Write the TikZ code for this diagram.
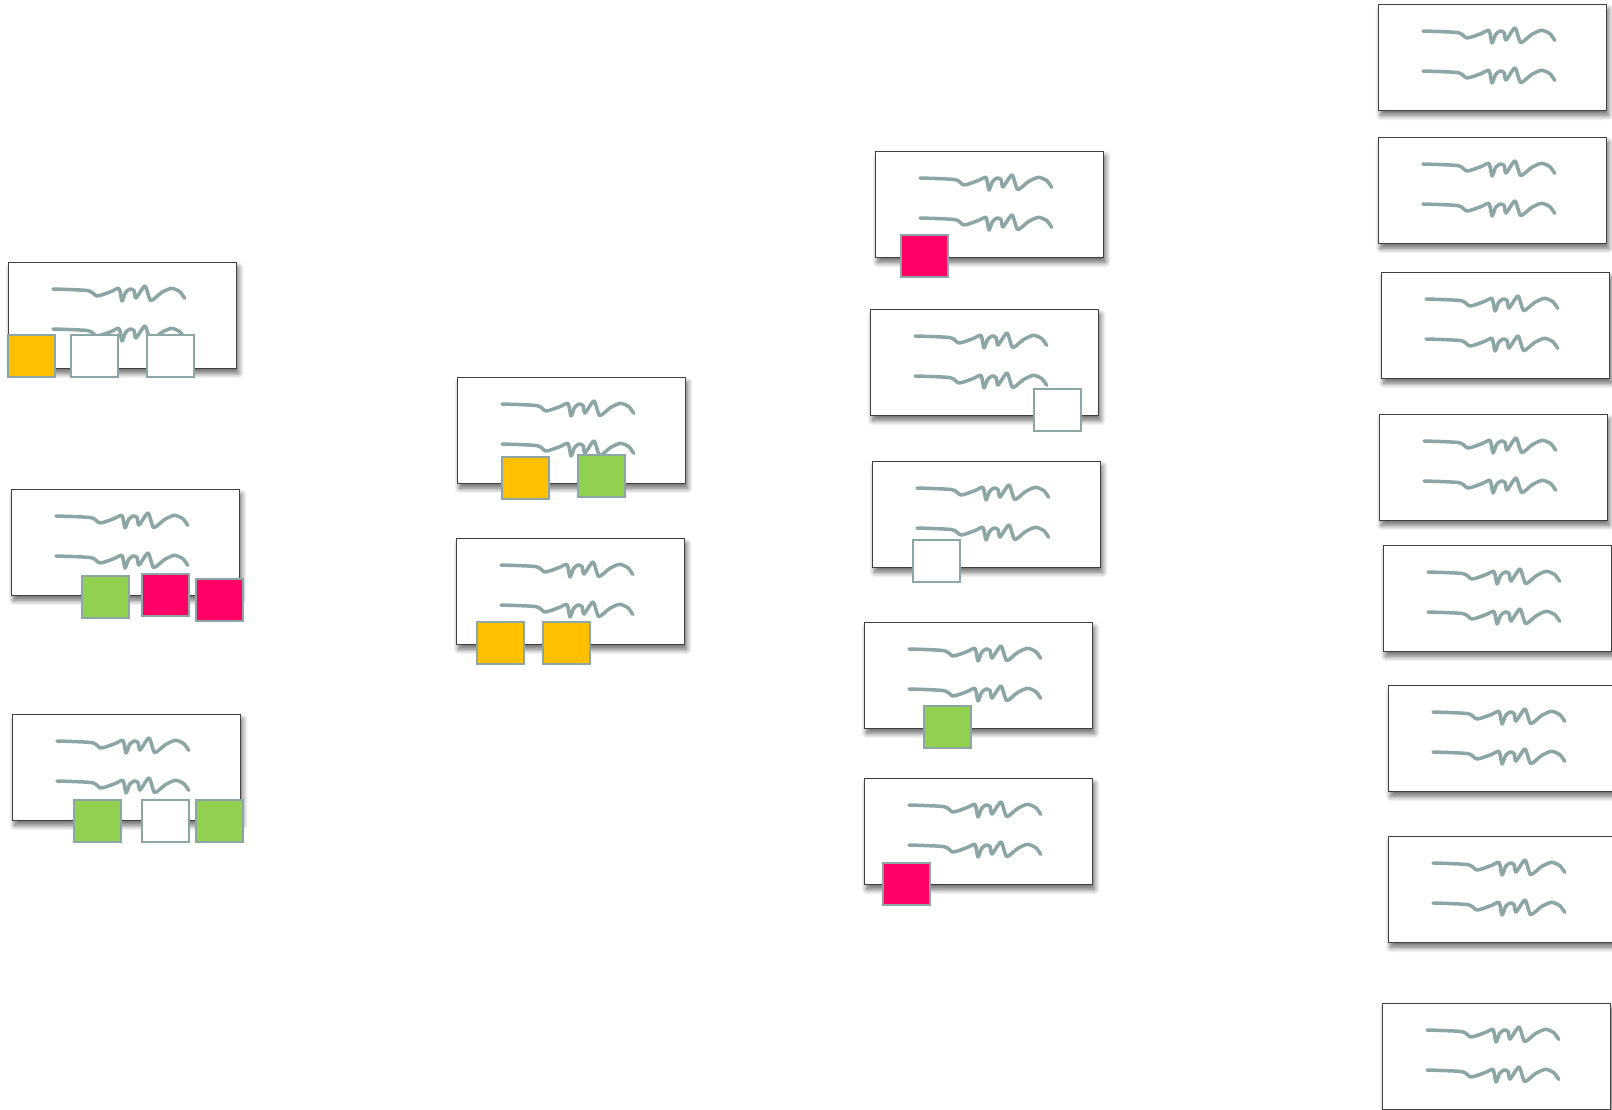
\documentclass[tikz,border=0pt]{standalone}
\usepackage{tikz}
\usetikzlibrary{positioning, shadows.blur}

\definecolor{inkgrey}{HTML}{8CA6A6}
\definecolor{noteyellow}{HTML}{FFC000}
\definecolor{notegreen}{HTML}{92D050}
\definecolor{notepink}{HTML}{FF0066}

\tikzset{
    scribble/.pic={
        \draw[inkgrey, line width=2pt, line cap=round, line join=round]
        plot[smooth, tension=0.4] coordinates {(0,0) (35,1.6) (44,7) (58,2.6)
            (66,-0.5) (69,12) (72.5,3.5) (77,0) (81,1.5) (83,9) (92,-3) (97.7,11.5)
            (108.4,3.6) (118.4,-0.7) (126.7,2.6) (131.7,9.3)};
    },
    card/.style={draw=black!75, line width=0.45pt, fill=white, anchor=north west,
        inner sep=0pt, outer sep=0pt, minimum width=4.56cm, minimum height=2.12cm,
        blur shadow={shadow xshift=1.5pt, shadow yshift=-3pt, shadow blur steps=8,
            shadow blur radius=3pt, shadow opacity=60},
        path picture={
            \pic at ([shift={(45,27)}]path picture bounding box.north west) {scribble};
            \pic at ([shift={(45,67)}]path picture bounding box.north west) {scribble};
        }},
    tag/.style={draw=inkgrey, line width=1.6pt, anchor=north west, inner sep=0pt,
        outer sep=0pt, minimum width=0.94cm, minimum height=0.84cm},
}

\begin{document}
\begin{tikzpicture}[x=0.02cm, y=-0.02cm]
    \useasboundingbox (0,0) rectangle (1612,1109);

    % first column
    \node[card] (a) at (8,262) {};
    \node[card] (b) at (11,489) {};
    \node[card] (c) at (12,714) {};

    \node[tag, fill=noteyellow] (a1) at (8,335) {};
    \node[tag, fill=white] (a2) at (71,335) {};
    \node[tag, fill=white] (a3) at (147,335) {};

    \node[tag, fill=notegreen] (b1) at (82,576) {};
    \node[tag, fill=notepink] (b2) at (142,574) {};
    \node[tag, fill=notepink] (b3) at (196,579) {};

    \node[tag, fill=notegreen] (c1) at (74,800) {};
    \node[tag, fill=white] (c2) at (142,800) {};
    \node[tag, fill=notegreen] (c3) at (196,800) {};

    % second column
    \node[card] (d) at (457,377) {};
    \node[card] (e) at (456,538) {};

    \node[tag, fill=noteyellow] (d1) at (502,457) {};
    \node[tag, fill=notegreen] (d2) at (578,455) {};

    \node[tag, fill=noteyellow] (e1) at (477,622) {};
    \node[tag, fill=noteyellow] (e2) at (543,622) {};

    % third column
    \node[card] (f) at (875,151) {};
    \node[card] (g) at (870,309) {};
    \node[card] (h) at (872,461) {};
    \node[card] (i) at (864,622) {};
    \node[card] (j) at (864,778) {};

    \node[tag, fill=notepink] (f1) at (901,235) {};
    \node[tag, fill=white] (g1) at (1034,389) {};
    \node[tag, fill=white] (h1) at (913,540) {};
    \node[tag, fill=notegreen] (i1) at (924,706) {};
    \node[tag, fill=notepink] (j1) at (883,863) {};

    % last column
    \node[card] (k) at (1378,4) {};
    \node[card] (l) at (1378,137) {};
    \node[card] (m) at (1381,272) {};
    \node[card] (n) at (1379,414) {};
    \node[card] (o) at (1383,545) {};
    \node[card] (p) at (1388,685) {};
    \node[card] (q) at (1388,836) {};
    \node[card] (r) at (1382,1003) {};

\end{tikzpicture}
\end{document}
